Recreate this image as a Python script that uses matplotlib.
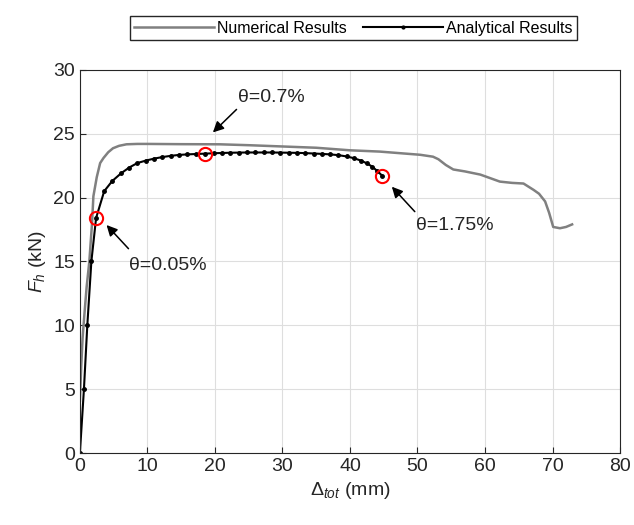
import matplotlib
matplotlib.use("Agg")
import matplotlib.pyplot as plt

# force-displacement response, numerical model (gray line)
num_x = [0, 0.2, 0.4, 0.6, 1.0, 1.4, 1.8, 2.0, 2.5, 3.0, 3.5, 4.2, 4.9, 5.8, 6.9,
         8.5, 10.0, 15.0, 20.7, 25.0, 30.0, 35.0, 40.0, 44.4, 48.0, 50.4, 52.3,
         53.1, 54.2, 55.3, 57.0, 59.3, 62.2, 64.0, 65.7, 67.2, 68.0, 68.9, 69.5,
         70.1, 71.1, 72.0, 72.9]
num_y = [4.1, 6.8, 9.0, 10.4, 13.0, 15.0, 18.0, 20.1, 21.6, 22.7, 23.1, 23.55,
         23.86, 24.05, 24.17, 24.2, 24.2, 24.18, 24.17, 24.1, 24.0, 23.9, 23.7,
         23.6, 23.45, 23.35, 23.2, 23.0, 22.55, 22.2, 22.05, 21.8, 21.25, 21.15,
         21.1, 20.6, 20.3, 19.7, 18.8, 17.7, 17.6, 17.7, 17.9]

# analytical model (black line with dots)
ana_x = [0, 0.6, 1.1, 1.7, 2.4, 3.6, 4.8, 6.1, 7.3, 8.5, 9.8, 11.0, 12.2, 13.5,
         14.7, 15.9, 17.2, 18.6, 19.8, 21.0, 22.3, 23.5, 24.7, 26.0, 27.2, 28.4,
         29.7, 30.9, 32.1, 33.4, 34.6, 35.8, 37.1, 38.3, 39.5, 40.6, 41.6, 42.5,
         43.3, 44.0, 44.8]
ana_y = [0, 5.0, 10.0, 15.0, 18.4, 20.5, 21.3, 21.9, 22.35, 22.7, 22.9, 23.05,
         23.17, 23.27, 23.34, 23.38, 23.41, 23.44, 23.47, 23.49, 23.51, 23.52,
         23.53, 23.53, 23.53, 23.53, 23.52, 23.51, 23.5, 23.48, 23.45, 23.42,
         23.38, 23.32, 23.22, 23.08, 22.9, 22.68, 22.42, 22.1, 21.7]

# drift ratio marks on the analytical curve
theta_idx = [4, 17, 40]
theta_labels = ["θ=0.05%", "θ=0.7%", "θ=1.75%"]
theta_text = [(13.0, 14.7), (28.3, 27.8), (55.6, 17.85)]
arrow_tail = [(7.2, 16.0), (23.2, 26.9), (49.6, 18.9)]
arrow_head = [(3.95, 17.85), (19.7, 25.1), (46.2, 20.85)]

xticks = [0, 10, 20, 30, 40, 50, 60, 70, 80]
yticks = [0, 5, 10, 15, 20, 25, 30]

plt.rcParams['font.family'] = ['Liberation Sans', 'DejaVu Sans']
plt.rcParams['mathtext.fontset'] = 'custom'
plt.rcParams['mathtext.rm'] = 'Liberation Sans'
plt.rcParams['mathtext.it'] = 'Liberation Sans:italic'

fig = plt.figure(figsize=(6.34, 5.25), dpi=100)
ax = fig.add_axes([0.126, 0.137, 0.852, 0.730])

ax.plot(num_x, num_y, color='#808080', lw=1.8, label='Numerical Results')
ax.plot(ana_x, ana_y, color='black', lw=1.5, marker='.', ms=5,
        label='Analytical Results')
ax.plot([ana_x[i] for i in theta_idx], [ana_y[i] for i in theta_idx], 'o',
        mfc='none', mec='red', ms=9.5, mew=1.5)

for lab, txt, tail, head in zip(theta_labels, theta_text, arrow_tail, arrow_head):
    ax.text(txt[0], txt[1], lab, fontsize=14, ha='center', va='center',
            color='#262626')
    ax.annotate('', xy=head, xytext=tail,
                arrowprops=dict(arrowstyle='-|>', color='black', lw=1.1,
                                mutation_scale=16, shrinkA=0, shrinkB=0))

ax.set_xlim(0, 80)
ax.set_ylim(0, 30)
ax.set_xticks(xticks)
ax.set_yticks(yticks)
ax.grid(True, color='#dedede', lw=0.8)
ax.set_axisbelow(True)
ax.tick_params(direction='in', labelsize=14, colors='#262626', length=4)
for s in ax.spines.values():
    s.set_color('#262626')

ax.set_xlabel(r'$\mathit{\Delta}_{\mathit{tot}}$ (mm)', fontsize=14,
              color='#262626')
ax.set_ylabel(r'$\mathit{F}_{\mathit{h}}$ (kN)', fontsize=14, color='#262626')

leg = fig.legend(loc='upper center', bbox_to_anchor=(0.5576, 0.985), ncol=2,
                 fontsize=11.5, fancybox=False, edgecolor='#262626',
                 framealpha=1, handlelength=5, columnspacing=1.0,
                 borderpad=0.3, handletextpad=0.2, markerscale=0.8)
leg.get_frame().set_linewidth(1)

fig.savefig('out.png', dpi=100)
